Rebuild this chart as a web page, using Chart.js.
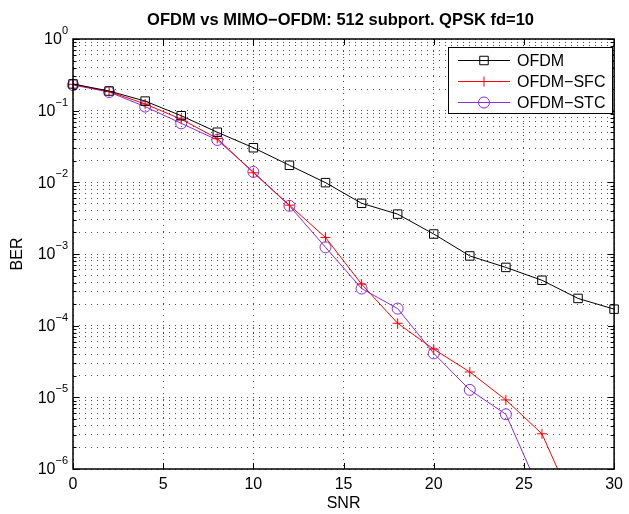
<!DOCTYPE html>
<html>
<head>
<meta charset="utf-8">
<script src="https://cdn.jsdelivr.net/npm/chart.js@4"></script>
<style>
html, body { margin: 0; padding: 0; background: #fff; }
</style>
</head>
<body>
<canvas id="ber" width="629" height="514"></canvas>
<script>
const snr = [0, 2, 4, 6, 8, 10, 12, 14, 16, 18, 20, 22, 24, 26, 28, 30];
const berOfdm = [0.236, 0.188, 0.136, 0.085, 0.050, 0.0304, 0.0173, 0.0099, 0.0051, 0.0036, 0.0019, 0.00094, 0.00065, 0.00043, 0.00024, 0.00017];
const berSfc = [0.233, 0.185, 0.124, 0.076, 0.041, 0.0136, 0.0048, 0.0017, 0.00038, 0.000108, 4.7e-5, 2.26e-5, 9.2e-6, 3.1e-6, 2.3e-7];
const berStc = [0.228, 0.182, 0.114, 0.0666, 0.039, 0.014, 0.0047, 0.00124, 0.00033, 0.000173, 4.1e-5, 1.27e-5, 5.8e-6, 4.2e-7];
const xTicks = [0, 5, 10, 15, 20, 25, 30];
const yExps = [-6, -5, -4, -3, -2, -1, 0];
const titleText = 'OFDM vs MIMO\u2212OFDM: 512 subport. QPSK fd=10';

const FONT = '"Liberation Sans", Arial, Helvetica, sans-serif';
Chart.defaults.font.family = FONT;
Chart.defaults.color = '#000';

// log grid: every 1..9 in each decade
const yTickValues = [];
yExps.forEach(e => {
    yTickValues.push(Math.pow(10, e));
    if (e < 0) for (let m = 2; m <= 9; m++) yTickValues.push(m * Math.pow(10, e));
});
const isPow10 = v => Math.abs(Math.log10(v) - Math.round(Math.log10(v))) < 1e-9;

const series = [
    { label: 'OFDM', data: berOfdm, color: '#000000', style: 'rect', r: 6 },
    { label: 'OFDM\u2212SFC', data: berSfc, color: '#ff0000', style: 'cross', r: 5 },
    { label: 'OFDM\u2212STC', data: berStc, color: '#8a2be2', style: 'circle', r: 5.5 }
];

function marker(ctx, style, x, y, r) {
    ctx.beginPath();
    if (style === 'rect') {
        const s = r * Math.SQRT1_2;
        ctx.rect(x - s, y - s, 2 * s, 2 * s);
    } else if (style === 'circle') {
        ctx.arc(x, y, r, 0, Math.PI * 2);
    } else {
        ctx.moveTo(x - r, y); ctx.lineTo(x + r, y);
        ctx.moveTo(x, y - r); ctx.lineTo(x, y + r);
    }
    ctx.stroke();
}

const frame = {
    id: 'frame',
    afterDraw(chart) {
        const { ctx, chartArea: a, scales: { x, y } } = chart;
        ctx.save();
        ctx.strokeStyle = '#000';
        ctx.lineWidth = 1;

        // inward tick marks, matlab style
        ctx.beginPath();
        xTicks.forEach(v => {
            const px = Math.round(x.getPixelForValue(v)) + 0.5;
            ctx.moveTo(px, a.bottom); ctx.lineTo(px, a.bottom - 6);
            ctx.moveTo(px, a.top); ctx.lineTo(px, a.top + 6);
        });
        yTickValues.forEach(v => {
            const py = Math.round(y.getPixelForValue(v)) + 0.5;
            const len = isPow10(v) ? 6 : 3.5;
            ctx.moveTo(a.left, py); ctx.lineTo(a.left + len, py);
            ctx.moveTo(a.right, py); ctx.lineTo(a.right - len, py);
        });
        ctx.stroke();

        ctx.lineWidth = 1.5;
        ctx.strokeRect(a.left, a.top, a.right - a.left, a.bottom - a.top);

        // title, centred over the axes
        ctx.fillStyle = '#000';
        ctx.textBaseline = 'middle';
        ctx.textAlign = 'center';
        ctx.font = 'bold 16.5px ' + FONT;
        ctx.fillText(titleText, (a.left + a.right) / 2 - 3, 20);

        // y labels with superscript exponents
        ctx.textAlign = 'right';
        yExps.forEach(e => {
            const py = y.getPixelForValue(Math.pow(10, e));
            const ex = (e < 0 ? '\u2212' : '') + Math.abs(e);
            const right = a.left - 5;
            ctx.font = '11px ' + FONT;
            ctx.fillText(ex, right, py - 8);
            const w = ctx.measureText(ex).width;
            ctx.font = '16px ' + FONT;
            ctx.fillText('10', right - w, py + 1);
        });

        // legend
        const lx = 448, ly = 47, lw = 164, lh = 66;
        ctx.fillStyle = '#fff';
        ctx.fillRect(lx, ly, lw, lh);
        ctx.lineWidth = 1;
        ctx.strokeStyle = '#000';
        ctx.strokeRect(lx + 0.5, ly + 0.5, lw, lh);
        series.forEach((s, i) => {
            const ry = ly + 13.5 + i * 21;
            ctx.strokeStyle = s.color;
            ctx.lineWidth = 1;
            ctx.beginPath();
            ctx.moveTo(458, ry); ctx.lineTo(510, ry);
            ctx.stroke();
            marker(ctx, s.style, 484, ry, s.r);
            ctx.fillStyle = '#000';
            ctx.font = '16px ' + FONT;
            ctx.textAlign = 'left';
            ctx.fillText(s.label, 517, ry + 1);
        });
        ctx.restore();
    }
};

new Chart(document.getElementById('ber'), {
    type: 'line',
    data: {
        datasets: series.map(s => ({
            label: s.label,
            data: s.data.map((v, i) => ({ x: snr[i], y: v })),
            borderColor: s.color,
            borderWidth: 1,
            pointStyle: s.style,
            pointRadius: s.r,
            pointBorderColor: s.color,
            pointBackgroundColor: 'rgba(0,0,0,0)',
            pointBorderWidth: 1,
            tension: 0,
            clip: { left: 10, top: 10, right: 10, bottom: 0 }
        }))
    },
    options: {
        responsive: false,
        animation: false,
        devicePixelRatio: 1,
        layout: { padding: { left: 0, right: 8, top: 39, bottom: 0 }, autoPadding: false },
        plugins: {
            legend: { display: false },
            tooltip: { enabled: false },
            title: { display: false }
        },
        scales: {
            x: {
                type: 'linear',
                min: 0,
                max: 30,
                afterBuildTicks: s => { s.ticks = xTicks.map(v => ({ value: v })); },
                afterFit: s => { s.height = 45; },
                ticks: { font: { size: 16 }, color: '#000', padding: 6, autoSkip: false, maxRotation: 0 },
                grid: { color: 'rgba(0,0,0,0.7)', lineWidth: 1, drawTicks: false },
                border: { display: false, dash: [1, 5] },
                title: { display: true, text: 'SNR', font: { size: 16 }, color: '#000', padding: { top: 0, bottom: 1 } }
            },
            y: {
                type: 'logarithmic',
                min: 1e-6,
                max: 1,
                afterBuildTicks: s => { s.ticks = yTickValues.map(v => ({ value: v, major: isPow10(v) })); },
                afterFit: s => { s.width = 73; },
                ticks: { display: false },
                grid: { color: 'rgba(0,0,0,0.7)', lineWidth: 1, drawTicks: false },
                border: { display: false, dash: [1, 5] },
                title: { display: true, text: 'BER', font: { size: 16 }, color: '#000', padding: { top: 8, bottom: 0 } }
            }
        }
    },
    plugins: [frame]
});
</script>
</body>
</html>
